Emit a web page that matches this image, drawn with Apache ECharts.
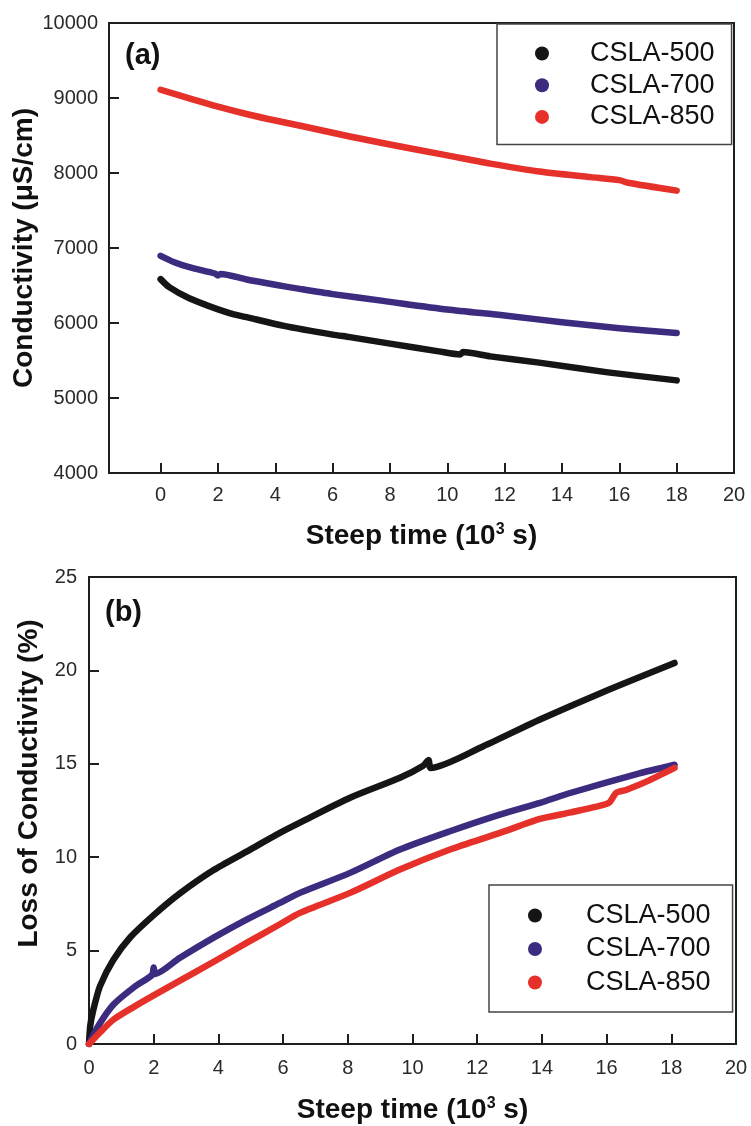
<!DOCTYPE html>
<html>
<head>
<meta charset="utf-8">
<script src="https://cdn.jsdelivr.net/npm/echarts@6/dist/echarts.min.js"></script>
<style>
  html, body { margin: 0; padding: 0; background: #fff; }
  #chart { width: 751px; height: 1126px; }
</style>
</head>
<body>
<div id="chart"></div>
<script>
// ---- data (time in 10^3 s) ----
var seriesNames = ['CSLA-500', 'CSLA-700', 'CSLA-850'];
var xTicks = [0, 2, 4, 6, 8, 10, 12, 14, 16, 18, 20];

// (a) conductivity, µS/cm
var time500a = [0, 0.3, 1, 2.4, 3, 4.3, 6, 6.6, 8, 9.7, 10.45, 10.55, 11.5, 13.2, 15.6, 18];
var cond500  = [6585, 6478, 6331, 6131, 6078, 5962, 5845, 5812, 5725, 5622, 5580, 5612, 5555, 5472, 5342, 5235];
var time700a = [0, 0.5, 1, 1.9, 2.0, 2.1, 3, 4, 4.85, 6, 7.76, 10, 12, 14, 16, 18];
var cond700  = [6896, 6807, 6745, 6660, 6635, 6655, 6580, 6510, 6455, 6385, 6295, 6180, 6100, 6010, 5930, 5868];
var time850a = [0, 1, 2, 3.1, 4, 5, 6.6, 8, 10, 11.5, 13.2, 15, 16, 16.3, 18];
var cond850  = [9110, 8995, 8885, 8777, 8700, 8620, 8487, 8380, 8235, 8125, 8020, 7945, 7905, 7870, 7765];

// (b) loss of conductivity, %
var time500b = [0, 0.04, 0.13, 0.34, 0.75, 1.27, 2, 2.8, 3.84, 4.87, 5.9, 6.52, 8.07, 9.61, 10.33, 10.5, 10.56, 12.19, 13.94, 15.9, 18.1];
var loss500  = [0, 1.0, 1.8, 3.1, 4.5, 5.7, 6.9, 8.05, 9.3, 10.3, 11.3, 11.85, 13.18, 14.25, 14.9, 15.2, 14.78, 15.94, 17.37, 18.85, 20.4];
var time700b = [0, 0.3, 0.75, 1.4, 1.95, 2.0, 2.05, 2.8, 3.84, 4.87, 5.9, 6.52, 8.07, 9.61, 11.16, 12.7, 13.94, 14.9, 16.93, 18.1];
var loss700  = [0, 1.0, 2.1, 3.05, 3.7, 4.1, 3.75, 4.6, 5.68, 6.66, 7.55, 8.09, 9.16, 10.41, 11.39, 12.28, 12.91, 13.45, 14.45, 14.95];
var time850b = [0, 0.3, 0.75, 1.4, 2.04, 2.81, 3.84, 4.87, 5.9, 6.52, 8.07, 9.61, 11.16, 12.7, 13.94, 14.9, 15.9, 16.1, 16.3, 16.6, 17.3, 18.1];
var loss850  = [0, 0.55, 1.3, 2.0, 2.64, 3.39, 4.39, 5.41, 6.41, 7.02, 8.09, 9.34, 10.41, 11.3, 12.05, 12.4, 12.8, 12.95, 13.45, 13.6, 14.1, 14.78];

var colors = ['#151515', '#3d2b7f', '#e6302a'];
var ink = '#1e1e1e';
var font = '"Liberation Sans", Arial, sans-serif';

function pairs(xs, ys) {
  return xs.map(function (x, i) { return [x, ys[i]]; });
}

function lineSeries(name, idx, grid, data) {
  return {
    name: name,
    type: 'line',
    xAxisIndex: grid,
    yAxisIndex: grid,
    data: data,
    showSymbol: false,
    symbol: 'circle',
    smooth: 0.25,
    color: colors[idx],
    lineStyle: { color: colors[idx], width: 6.5, cap: 'round', join: 'round' },
    z: 3 + idx
  };
}

var axisLine = { onZero: false, lineStyle: { color: ink, width: 2 } };
var axisTick = { inside: true, length: 10, lineStyle: { color: ink, width: 2 } };
var tickText = {
  color: '#2a2a2a', fontSize: 20, fontFamily: font,
  formatter: function (v) { return String(v); }
};
var nameText = { color: '#111', fontSize: 28, fontWeight: 'bold', fontFamily: font };
var xNameText = {
  color: '#111', fontSize: 28, fontWeight: 'bold', fontFamily: font,
  rich: { sup: { fontSize: 16, fontWeight: 'bold', fontFamily: font, color: '#111', verticalAlign: 'top' } }
};
var legendText = { color: '#111', fontSize: 27, lineHeight: 27, fontFamily: font };

var chart = echarts.init(document.getElementById('chart'), null, { renderer: 'canvas' });
chart.setOption({
  animation: false,
  backgroundColor: '#fff',
  grid: [
    { left: 109, top: 23, width: 625, height: 450, outerBoundsMode: 'none', show: true, borderColor: ink, borderWidth: 2 },
    { left: 89, top: 577, width: 647, height: 467, outerBoundsMode: 'none', show: true, borderColor: ink, borderWidth: 2 }
  ],
  xAxis: [
    {
      gridIndex: 0, type: 'value', min: -1.8, max: 20,
      axisLine: axisLine,
      axisTick: Object.assign({ customValues: xTicks }, axisTick),
      axisLabel: Object.assign({ customValues: xTicks, margin: 12 }, tickText),
      splitLine: { show: false },
      name: 'Steep time (10{sup|3} s)', nameLocation: 'middle', nameGap: 49,
      nameTextStyle: xNameText
    },
    {
      gridIndex: 1, type: 'value', min: 0, max: 20, interval: 2,
      axisLine: axisLine, axisTick: axisTick,
      axisLabel: Object.assign({ margin: 14 }, tickText),
      splitLine: { show: false },
      name: 'Steep time (10{sup|3} s)', nameLocation: 'middle', nameGap: 52,
      nameTextStyle: xNameText
    }
  ],
  yAxis: [
    {
      gridIndex: 0, type: 'value', min: 4000, max: 10000, interval: 1000,
      axisLine: Object.assign({ show: true }, axisLine), axisTick: axisTick,
      axisLabel: Object.assign({ margin: 11 }, tickText),
      splitLine: { show: false },
      name: 'Conductivity (\u03bcS/cm)', nameLocation: 'middle', nameGap: 71,
      nameMoveOverlap: false,
      nameTextStyle: nameText
    },
    {
      gridIndex: 1, type: 'value', min: 0, max: 25, interval: 5,
      axisLine: Object.assign({ show: true }, axisLine), axisTick: axisTick,
      axisLabel: Object.assign({ margin: 12 }, tickText),
      splitLine: { show: false },
      name: 'Loss of Conductivity (%)', nameLocation: 'middle', nameGap: 46,
      nameTextStyle: Object.assign({ padding: [0, 0, 0, 54] }, nameText)
    }
  ],
  legend: [
    {
      data: seriesNames, orient: 'vertical', left: 497, top: 24,
      padding: [16, 17, 14, 38], itemWidth: 86, itemHeight: 14, itemGap: 4.7,
      icon: 'circle', borderColor: '#444', borderWidth: 1.5, backgroundColor: '#fff',
      selectedMode: false, textStyle: legendText
    },
    {
      data: seriesNames, orient: 'vertical', left: 489, top: 885,
      padding: [17, 22, 16, 39], itemWidth: 92, itemHeight: 14, itemGap: 6.5,
      icon: 'circle', borderColor: '#444', borderWidth: 1.5, backgroundColor: '#fff',
      selectedMode: false, textStyle: legendText
    }
  ],
  graphic: [
    { type: 'text', left: 125, top: 41, style: { text: '(a)', fill: '#111', font: 'bold 29px ' + font } },
    { type: 'text', left: 105, top: 598, style: { text: '(b)', fill: '#111', font: 'bold 29px ' + font } }
  ],
  series: [
    lineSeries(seriesNames[0], 0, 0, pairs(time500a, cond500)),
    lineSeries(seriesNames[1], 1, 0, pairs(time700a, cond700)),
    lineSeries(seriesNames[2], 2, 0, pairs(time850a, cond850)),
    lineSeries(seriesNames[0], 0, 1, pairs(time500b, loss500)),
    lineSeries(seriesNames[1], 1, 1, pairs(time700b, loss700)),
    lineSeries(seriesNames[2], 2, 1, pairs(time850b, loss850))
  ]
});
window.addEventListener('resize', function () { chart.resize(); });
</script>
</body>
</html>
